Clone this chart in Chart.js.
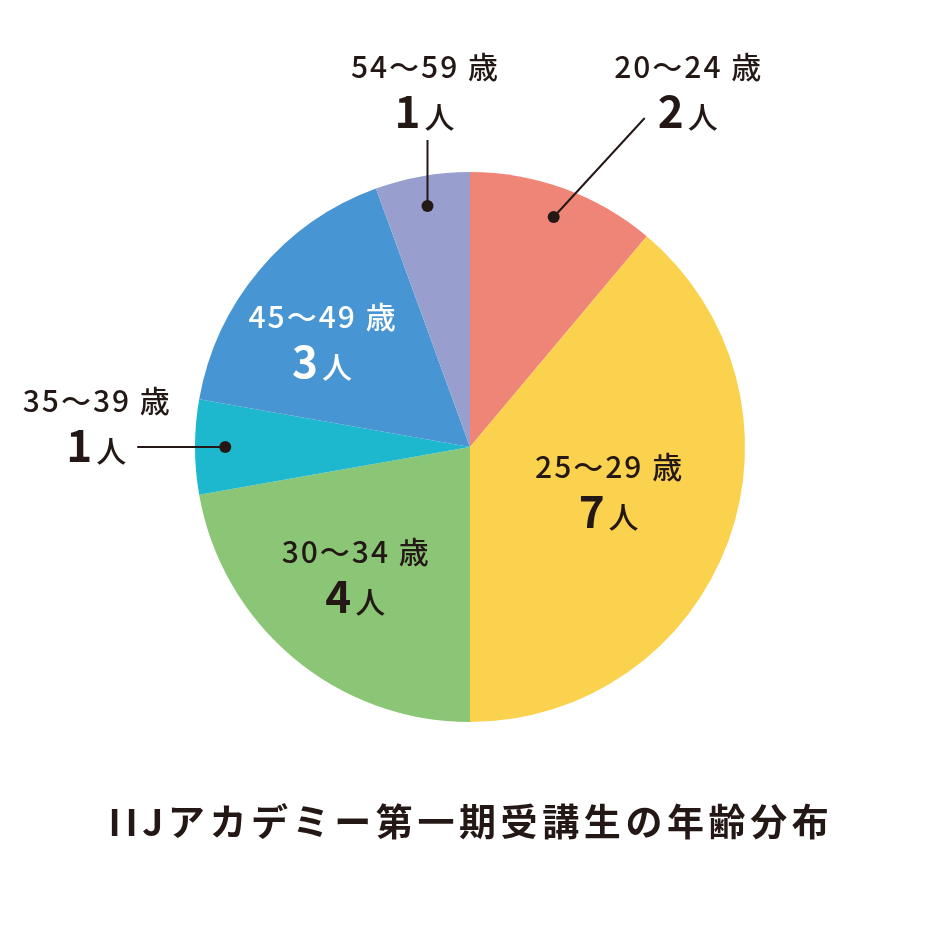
<!DOCTYPE html>
<html>
<head>
<meta charset="utf-8">
<script src="https://cdn.jsdelivr.net/npm/chart.js@4.4.1/dist/chart.umd.min.js"></script>
<style>
  html, body { margin: 0; padding: 0; background: #fff; }
  #wrap { width: 941px; height: 941px; }
</style>
</head>
<body>
<div id="wrap"><canvas id="chart-age" width="941" height="941"></canvas></div>
<script>
// データ
const ageLabels = ["20～24 歳", "25～29 歳", "30～34 歳", "35～39 歳", "45～49 歳", "54～59 歳"];
const peopleCounts = [2, 7, 4, 1, 3, 1];
const sliceColors = ["#EE8577", "#FBD24E", "#8BC576", "#1EB8CE", "#4795D2", "#989FCE"];
const chartTitle = "IIJアカデミー第一期受講生の年齢分布";

const TEXT = "#231815";
const FONT = '"Noto Sans CJK JP", "Noto Sans", sans-serif';

// ラベルの置き方（内側: 半径比+角度補正 / 外側: 引き出し線）
const labelStyles = [
  { out: true, dot: 0.89, lineTo: [91, -99], text: [134, -139], color: TEXT },
  { out: false, at: 0.53, shift: -2, color: TEXT },
  { out: false, at: 0.63, shift: 1.5, color: TEXT },
  { out: true, dot: 0.89, lineTo: [-88, 0], text: [-129, -35], color: TEXT },
  { out: false, at: 0.66, shift: -4.6, color: "#fff" },
  { out: true, dot: 0.89, lineTo: [0, -66], text: [-3, -128], color: TEXT }
];

function drawLabel(ctx, x, y, label, count, color) {
  // y = 1行目のベースライン
  ctx.fillStyle = color;
  ctx.textAlign = "center";
  ctx.textBaseline = "alphabetic";
  ctx.letterSpacing = "2px";
  ctx.font = "500 30px " + FONT;
  ctx.fillText(label, x + 1, y);
  ctx.letterSpacing = "0px";

  const num = String(count);
  ctx.font = "bold 44px " + FONT;
  const wNum = ctx.measureText(num).width;
  ctx.font = "500 30px " + FONT;
  const wUnit = ctx.measureText("人").width;
  const gap = 4;
  const left = x - (wNum + gap + wUnit) / 2;
  ctx.textAlign = "left";
  ctx.font = "bold 44px " + FONT;
  ctx.fillText(num, left, y + 50);
  ctx.font = "500 30px " + FONT;
  ctx.fillText("人", left + wNum + gap, y + 50);
}

const pieLabels = {
  id: "pieLabels",
  afterDatasetsDraw(chart) {
    const ctx = chart.ctx;
    const meta = chart.getDatasetMeta(0);
    ctx.save();
    meta.data.forEach((arc, i) => {
      const st = labelStyles[i];
      const mid = (arc.startAngle + arc.endAngle) / 2;
      const r = arc.outerRadius;
      if (st.out) {
        const dx = arc.x + Math.cos(mid) * r * st.dot;
        const dy = arc.y + Math.sin(mid) * r * st.dot;
        ctx.strokeStyle = TEXT;
        ctx.lineWidth = 2;
        ctx.beginPath();
        ctx.moveTo(dx, dy);
        ctx.lineTo(dx + st.lineTo[0], dy + st.lineTo[1]);
        ctx.stroke();
        ctx.fillStyle = TEXT;
        ctx.beginPath();
        ctx.arc(dx, dy, 6, 0, Math.PI * 2);
        ctx.fill();
        drawLabel(ctx, dx + st.text[0], dy + st.text[1], ageLabels[i], peopleCounts[i], st.color);
      } else {
        const a = mid + st.shift * Math.PI / 180;
        const ax = arc.x + Math.cos(a) * r * st.at;
        const ay = arc.y + Math.sin(a) * r * st.at;
        drawLabel(ctx, ax, ay - 14, ageLabels[i], peopleCounts[i], st.color);
      }
    });

    // タイトル
    ctx.fillStyle = TEXT;
    ctx.textAlign = "center";
    ctx.textBaseline = "middle";
    ctx.letterSpacing = "4.6px";
    ctx.font = "bold 37px " + FONT;
    ctx.fillText(chartTitle, 471, 822);
    ctx.restore();
  }
};

new Chart(document.getElementById("chart-age").getContext("2d"), {
  type: "pie",
  data: {
    labels: ageLabels,
    datasets: [
      {
        data: peopleCounts,
        backgroundColor: sliceColors,
        borderWidth: 0
      }
    ]
  },
  options: {
    responsive: false,
    animation: false,
    layout: { padding: { top: 172, bottom: 219, left: 195, right: 196 } },
    plugins: {
      legend: { display: false },
      tooltip: { enabled: false },
      title: { display: false }
    }
  },
  plugins: [pieLabels]
});
</script>
</body>
</html>
